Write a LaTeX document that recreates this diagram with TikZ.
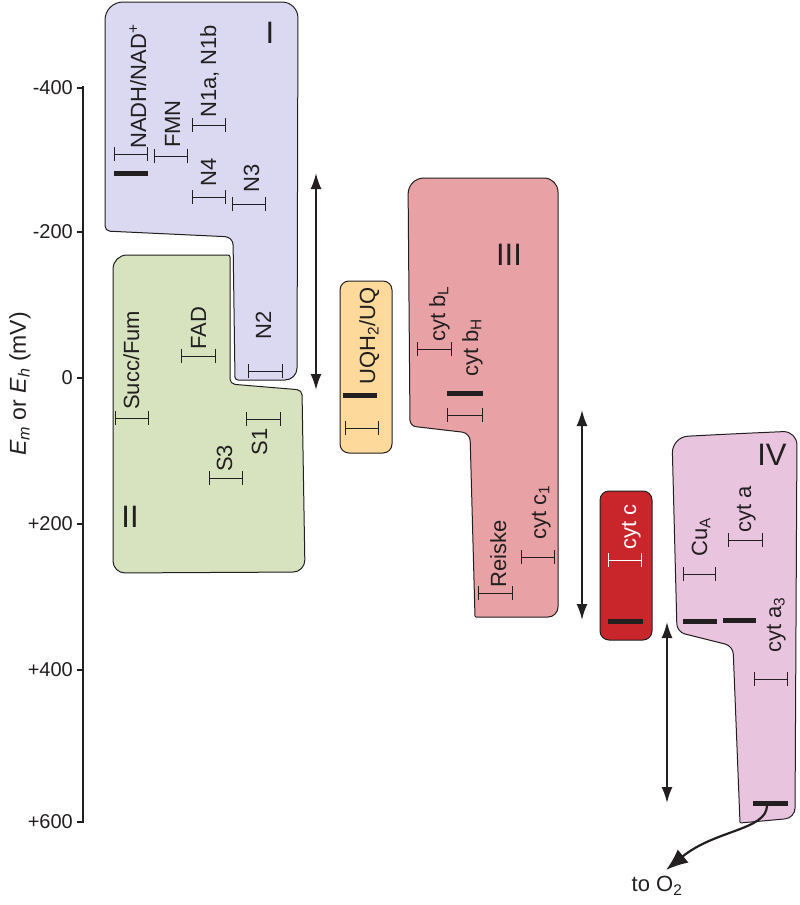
\documentclass[tikz,border=0pt]{standalone}
\usepackage{fontspec}
\setmainfont{Liberation Sans}
\usetikzlibrary{arrows.meta}
\definecolor{cIfill}{HTML}{DAD9F1}
\definecolor{cIIfill}{HTML}{D6E3BE}
\definecolor{cIIIfill}{HTML}{E8A2A5}
\definecolor{uqfill}{HTML}{FDD99B}
\definecolor{cytcfill}{HTML}{C8262B}
\definecolor{cIVfill}{HTML}{E9C4DF}
\definecolor{ink}{HTML}{231F20}
\newcommand{\lblsize}{\fontsize{22}{25}\selectfont}
\newcommand{\romsize}{\fontsize{31}{35}\selectfont}
\newcommand{\ticksize}{\fontsize{20}{24}\selectfont}
\newcommand{\axsize}{\fontsize{23}{27}\selectfont}
\begin{document}
\begin{tikzpicture}[x=1pt,y=-1pt,
    cplx/.style={draw=ink,line width=1pt},
    level/.style={draw=ink,line width=0.9pt,{Bar[width=14pt]}-{Bar[width=14pt]}},
    heavy/.style={draw=ink,line width=5pt},
    lbl/.style={rotate=90,anchor=base west,inner sep=0pt,font=\lblsize,text=ink},
    roman/.style={font=\romsize,inner sep=0pt,text=ink},
    potarrow/.style={draw=ink,line width=2pt,
      {Latex[length=16pt,width=11pt]}-{Latex[length=16pt,width=11pt]}}]
    \useasboundingbox (0,0) rectangle (800,905);
    % axis
    \draw[ink,line width=1.5pt] (83,86) -- (83,823);
    \foreach \v/\y in {-400/88,-200/232,0/378,+200/524,+400/670,+600/822}{
      \draw[ink,line width=1.2pt] (77,\y) -- (83,\y);
      \node[anchor=east,font=\ticksize,inner sep=0pt,text=ink] (tick\y) at (73,\y) {\v};
    }
    \node[rotate=90,font=\axsize,text=ink] (ylabel) at (20,384)
      {\textit{E}\textsubscript{\textit{m}} or \textit{E}\textsubscript{\textit{h}} (mV)};
    % complexes
    \draw[cplx,fill=cIfill] (200,2) [rounded corners=16pt] -- (298,2)
      [rounded corners=12pt] -- (297,380) [rounded corners=3pt] -- (235,380)
      [rounded corners=8pt] -- (233,237) [rounded corners=5pt] -- (105,231)
      [rounded corners=18pt] -- (105,2) -- cycle;
    \draw[cplx,fill=cIIfill] (170,255) [rounded corners=2pt] -- (230,255)
      [rounded corners=5pt] -- (230,384) [rounded corners=5pt] -- (302,390)
      [rounded corners=12pt] -- (305,572) [rounded corners=12pt] -- (113,573)
      [rounded corners=14pt] -- (113,255) -- cycle;
    \draw[cplx,fill=uqfill,rounded corners=9pt] (340,281) rectangle (392,453);
    \draw[cplx,fill=cIIIfill] (480,178) [rounded corners=14pt] -- (558,178)
      [rounded corners=10pt] -- (558,617) [rounded corners=1pt] -- (475,617)
      [rounded corners=8pt] -- (470,433) [rounded corners=6pt] -- (410,426)
      [rounded corners=16pt] -- (408,178) -- cycle;
    \draw[cplx,fill=cytcfill,rounded corners=9pt] (600,491) rectangle (652,640);
    \draw[cplx,fill=cIVfill] (730,434) [rounded corners=14pt] -- (797,431)
      [rounded corners=10pt] -- (795,818) [rounded corners=1pt] -- (740,823)
      [rounded corners=8pt] -- (733,646) [rounded corners=8pt] -- (677,632)
      [rounded corners=16pt] -- (672,437) -- cycle;
    % roman numerals
    \node[roman] (romI) at (270,33) {I};
    \node[roman] (romII) at (130,517) {II};
    \node[roman] (romIII) at (509,255) {III};
    \node[roman] (romIV) at (772,455) {IV};
    % complex I
    \draw[level] (114,154) -- (148,154);
    \draw[heavy] (114,173) -- (148,173);
    \node[lbl] (nadh) at (146,149) {NADH/NAD\textsuperscript{+}};
    \draw[level] (154,156) -- (188,156);
    \node[lbl] (fmn) at (180,148) {FMN};
    \draw[level] (192,125) -- (226,125);
    \node[lbl] (n1ab) at (216,118) {N1a, N1b};
    \draw[level] (192,197) -- (226,197);
    \node[lbl] (n4) at (216,187) {N4};
    \draw[level] (232,204) -- (266,204);
    \node[lbl] (n3) at (259,193) {N3};
    \draw[level] (248,371) -- (283,371);
    \node[lbl] (n2) at (271,340) {N2};
    % complex II
    \draw[level] (115,418) -- (149,418);
    \node[lbl] (succ) at (139,410) {Succ/Fum};
    \draw[level] (181,356) -- (216,356);
    \node[lbl] (fad) at (206,350) {FAD};
    \draw[level] (209,478) -- (243,478);
    \node[lbl] (s3) at (232,472) {S3};
    \draw[level] (246,419) -- (281,419);
    \node[lbl,anchor=base east] (s1) at (267,428) {S1};
    % ubiquinone
    \draw[heavy] (343,395) -- (377,395);
    \draw[level] (345,428) -- (379,428);
    \node[lbl] (uq) at (375,385) {UQH\textsubscript{2}/UQ};
    % complex III
    \draw[level] (417,349) -- (452,349);
    \node[lbl] (bL) at (445,342) {cyt b\textsubscript{L}};
    \draw[heavy] (447,393) -- (483,393);
    \draw[level] (447,415) -- (483,415);
    \node[lbl] (bH) at (478,377) {cyt b\textsubscript{H}};
    \draw[level] (521,557) -- (555,557);
    \node[lbl] (c1) at (546,540) {cyt c\textsubscript{1}};
    \draw[level] (478,593) -- (513,593);
    \node[lbl] (reiske) at (506,588) {Reiske};
    % cytochrome c
    \draw[level,draw=white] (608,560) -- (642,560);
    \node[lbl,text=white] (cytc) at (636,550) {cyt c};
    \draw[heavy] (608,621) -- (643,621);
    % complex IV
    \draw[level] (683,574) -- (716,574);
    \node[lbl] (cua) at (707,557) {Cu\textsubscript{A}};
    \draw[level] (728,540) -- (763,540);
    \node[lbl] (cyta) at (751,533) {cyt a};
    \draw[heavy] (683,621) -- (717,621);
    \draw[heavy] (723,620) -- (756,620);
    \draw[level] (754,679) -- (788,679);
    \node[lbl] (a3) at (781,653) {cyt a\textsubscript{3}};
    \draw[heavy] (753,803) -- (788,803);
    % potential spans
    \coordinate (spanItop) at (316,173);
    \coordinate (spanIbot) at (316,390);
    \draw[potarrow] (spanItop) -- (spanIbot);
    \coordinate (spanIIItop) at (582,410);
    \coordinate (spanIIIbot) at (582,620);
    \draw[potarrow] (spanIIItop) -- (spanIIIbot);
    \coordinate (spanIVtop) at (667,622);
    \coordinate (spanIVbot) at (667,803);
    \draw[potarrow] (spanIVtop) -- (spanIVbot);
    % to oxygen
    \node[font=\lblsize,text=ink,inner sep=0pt] (toO2) at (657,886) {to O\textsubscript{2}};
    \coordinate (o2start) at (767,806);
    \coordinate (o2tip) at (666,870);
    \draw[ink,line width=2.2pt,-{Latex[length=22pt,width=17pt]}] (o2start)
      .. controls (766,830) and (715,830) .. (o2tip);
  \end{tikzpicture}
\end{document}
